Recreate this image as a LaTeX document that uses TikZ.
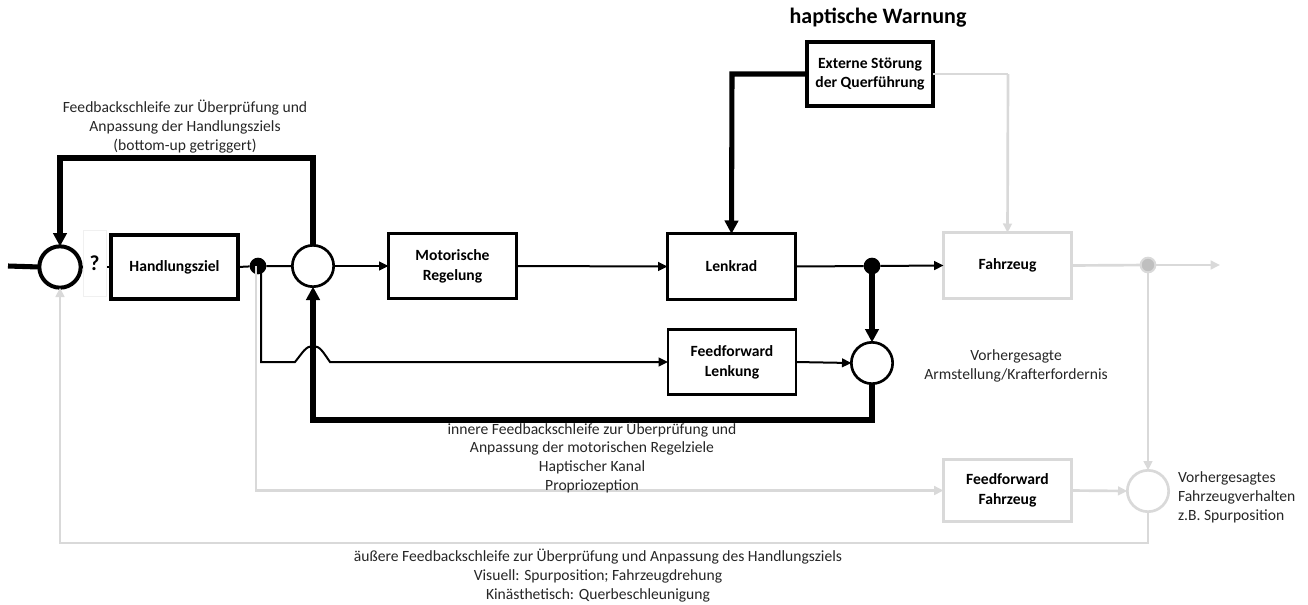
\documentclass[tikz,border=0pt]{standalone}
\usepackage{fontspec}
\setmainfont{Carlito}
\usetikzlibrary{arrows.meta}
\definecolor{lgrey}{HTML}{D9D9D9}
\definecolor{dgrey}{HTML}{BFBFBF}
\begin{document}
\begin{tikzpicture}[x=0.75pt,y=-0.75pt,
  every node/.style={inner sep=0pt, outer sep=0pt, align=center,
    font=\fontsize{11.7}{14.4}\selectfont},
  blabel/.style={font=\fontsize{11.7}{14.8}\selectfont\bfseries},
  thinbox/.style={draw, line width=2.2pt, blabel, minimum width=96pt, minimum height=49pt},
  thickbox/.style={draw, line width=3pt, blabel, minimum width=95pt, minimum height=48pt},
  greybox/.style={draw=lgrey, line width=2.2pt, blabel, minimum width=96pt, minimum height=49pt},
  sumthick/.style={circle, draw, line width=3pt, minimum size=31pt},
  sumthin/.style={circle, draw, line width=2pt, minimum size=31pt},
  sumgrey/.style={circle, draw=lgrey, line width=2pt, minimum size=31pt},
  blackdot/.style={circle, fill=black, minimum size=12.5pt},
  greydot/.style={circle, fill=dgrey, draw=lgrey, line width=1.5pt, minimum size=11pt},
  conn/.style={line width=1.5pt, -{Triangle[length=7pt,width=6.5pt]}},
  plain/.style={line width=1.5pt},
  heavy/.style={line width=3.8pt, -{Triangle[length=10pt,width=10pt]}},
  heavyplain/.style={line width=3.8pt},
  greyconn/.style={draw=lgrey, line width=2pt, -{Triangle[length=7pt,width=6.5pt]}, color=lgrey},
  greyplain/.style={draw=lgrey, line width=2pt},
  note/.style={font=\fontsize{11.7}{14.25}\selectfont, text=black!85}
]
\useasboundingbox (0,0) rectangle (1308,604);

% blocks
\node[thickbox] (hz) at (174.5,267) {Handlungsziel};
\node[thinbox] (mr) at (452.5,266) {Motorische\\Regelung};
\node[thinbox] (lr) at (731.5,266.5) {Lenkrad};
\node[greybox] (fz) at (1007.5,265.5) {Fahrzeug};
\node[thinbox] (ffl) at (732,362) {Feedforward\\Lenkung};
\node[greybox, minimum height=46.5pt] (fff) at (1007.5,490.5) {Feedforward\\Fahrzeug};
\node[thickbox] (es) at (870,74) {Externe Störung\\der Querführung};

% summing points and branch points
\node[sumthick] (c1) at (60,267) {};
\node[sumthin] (c2) at (313,266) {};
\node[sumthin] (c3) at (872,363) {};
\node[sumgrey] (c4) at (1148,491) {};
\node[blackdot] (d1) at (258,266) {};
\node[blackdot] (d2) at (872,266) {};
\node[greydot] (d3) at (1148,265) {};

% free ends and branch taps
\coordinate (in) at (8,266);
\coordinate (out) at (1220,265);
\coordinate (gtap) at (256,266);
\coordinate (btap) at (261,266);

% light grey paths (vehicle level)
\draw[greyplain] (es.east) -- (1008,74) coordinate (esr);
\draw[greyconn] (esr) -- (fz.north);
\draw[greyplain] (fz.east) -- (d3);
\draw[greyconn] (d3) -- (out);
\draw[greyconn] (d3) -- (c4.north);
\draw[greyconn] (fff.east) -- (c4.west);
\draw[greyconn] (c4.south) |- (60,543) -- (c1.south);
\draw[greyconn] (gtap) |- (fff.west);

% goal loop
\draw[heavyplain] (in) -- (c1.west);
\draw[plain] (c1.east) -- (hz.west);
\node[draw=black!6, fill=white, minimum width=17pt, minimum height=49.5pt,
  font=\fontsize{16}{16}\selectfont\bfseries] (q) at (94.5,263) {?};
\draw[plain] (hz.east) -- (d1) -- (c2.west);
\draw[heavy] (c2.north) -- (313,158) -- (60,158) -- (c1.north);

% motor control chain
\draw[conn] (c2.east) -- (mr.west);
\draw[conn] (mr.east) -- (lr.west);
\draw[plain] (lr.east) -- (d2);
\draw[conn] (d2) -- (fz.west);
\draw[heavy] (es.west) -- (732,74) -- (lr.north);

% feedforward steering with a jump over the inner loop
\draw[conn] (btap) -- (261,362) -- (295,362)
  .. controls (303,352) and (306,346) .. (313,346)
  .. controls (320,346) and (323,352) .. (330,362) -- (ffl.west);
\draw[conn] (ffl.east) -- (c3.west);
\draw[heavy] (d2) -- (c3.north);
\draw[heavy] (c3.south) -- (872,420) -- (313,420) -- (c2.south);

% labels
\node[font=\fontsize{16.5}{18}\selectfont\bfseries] (hw) at (878,18) {haptische Warnung};
\node[note] (t1) at (185,127) {Feedbackschleife zur Überprüfung und\\Anpassung der Handlungsziels\\(bottom-up getriggert)};
\node[note] (t2) at (1016,366) {Vorhergesagte\\Armstellung/Krafterfordernis};
\node[note, font=\fontsize{11.7}{14}\selectfont] (t3) at (592,457) {innere Feedbackschleife zur Überprüfung und\\Anpassung der motorischen Regelziele\\Haptischer Kanal\\Propriozeption};
\node[note, align=left, anchor=west] (t4) at (1178,497) {Vorhergesagtes\\Fahrzeugverhalten\\z.B. Spurposition};
\node[note] (t5) at (598,576) {äußere Feedbackschleife zur Überprüfung und Anpassung des Handlungsziels\\Visuell: Spurposition; Fahrzeugdrehung\\Kinästhetisch: Querbeschleunigung};
\end{tikzpicture}
\end{document}
